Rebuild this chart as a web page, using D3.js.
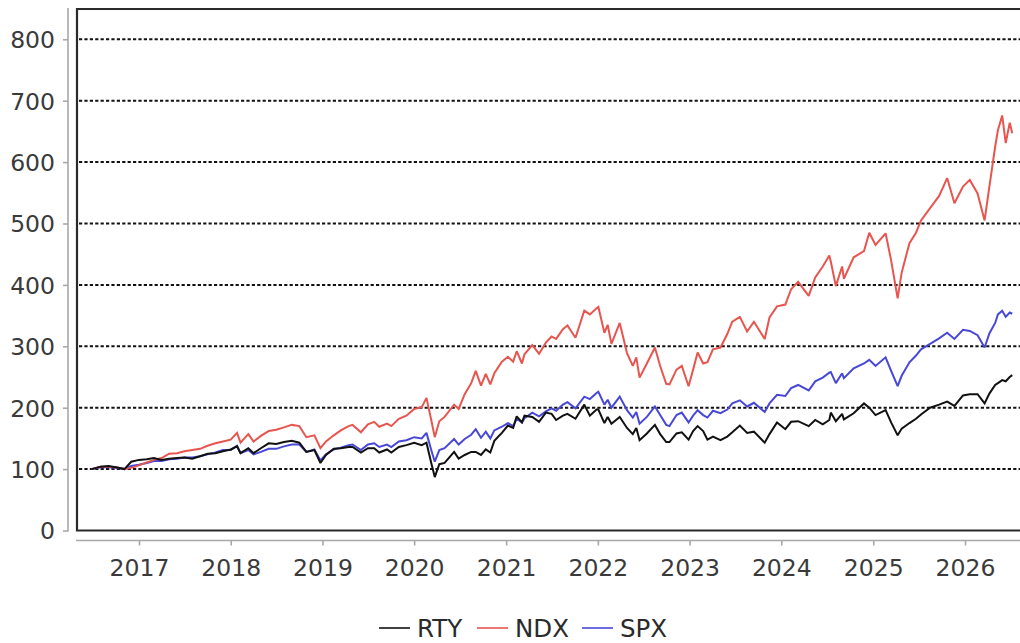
<!DOCTYPE html>
<html>
<head>
<meta charset="utf-8">
<script src="https://cdn.jsdelivr.net/npm/d3@7"></script>
<style>
  html, body { margin: 0; padding: 0; background: #fff; }
  svg { display: block; }
</style>
</head>
<body>
<svg id="chart" width="1020" height="643"></svg>
<script>
// ---------- data ----------
const dates = [
"2016-06-27","2016-08-01","2016-09-01","2016-10-01","2016-11-04","2016-12-01",
"2017-01-01","2017-02-01","2017-03-01","2017-04-01","2017-05-01","2017-06-01",
"2017-07-01","2017-08-01","2017-09-01","2017-10-01","2017-11-01","2017-12-01",
"2018-01-01","2018-01-26","2018-02-09","2018-03-12","2018-04-02","2018-05-01",
"2018-06-01","2018-07-01","2018-08-01","2018-09-01","2018-10-01","2018-10-29",
"2018-11-30","2018-12-24","2019-01-15","2019-02-15","2019-03-15","2019-04-15",
"2019-05-01","2019-06-03","2019-07-01","2019-07-26","2019-08-15","2019-09-15",
"2019-10-02","2019-11-01","2019-12-01","2020-01-01","2020-01-31","2020-02-19",
"2020-03-09","2020-03-23","2020-04-10","2020-05-01","2020-06-08","2020-06-26",
"2020-07-20","2020-08-15","2020-09-02","2020-09-23","2020-10-12","2020-10-30",
"2020-11-15","2020-12-15","2021-01-08","2021-01-29","2021-02-12","2021-03-05",
"2021-03-15","2021-04-15","2021-05-12","2021-06-08","2021-07-01","2021-07-19",
"2021-08-15","2021-09-02","2021-10-04","2021-11-08","2021-11-30","2021-12-27",
"2022-01-03","2022-01-27","2022-02-09","2022-02-24","2022-03-29","2022-04-27",
"2022-05-20","2022-06-03","2022-06-16","2022-07-15","2022-08-16","2022-09-06",
"2022-09-30","2022-10-13","2022-11-10","2022-12-01","2022-12-28","2023-01-15",
"2023-02-02","2023-02-24","2023-03-13","2023-04-04","2023-05-04","2023-05-31",
"2023-06-20","2023-07-20","2023-08-18","2023-09-14","2023-10-27","2023-11-15",
"2023-12-15","2024-01-17","2024-02-09","2024-03-08","2024-04-19","2024-05-15",
"2024-06-14","2024-07-10","2024-07-16","2024-08-05","2024-08-30","2024-09-06",
"2024-10-15","2024-11-25","2024-12-16","2025-01-10","2025-02-19","2025-03-13",
"2025-04-08","2025-04-24","2025-05-25","2025-06-20","2025-07-10","2025-08-15",
"2025-09-20","2025-10-22","2025-11-20","2025-12-24","2026-01-20","2026-02-20",
"2026-03-20","2026-04-08","2026-05-01","2026-05-12","2026-05-29","2026-06-12",
"2026-06-28","2026-07-08"
];
const rty = [
100,104,105,103,100,112,
115,116,118,115,117,118,
119,117,121,125,126,129,
132,137,126,134,126,134,
142,141,144,146,143,128,
131,110,123,133,134,136,
136,127,134,134,127,132,
127,136,139,143,139,143,
110,87,108,110,128,117,
123,128,128,123,132,127,
146,159,171,167,186,176,
187,185,177,192,190,180,
187,190,182,205,187,197,
197,175,185,174,185,167,
157,167,147,158,172,157,
144,144,158,160,148,162,
170,162,148,153,147,153,
160,171,159,161,143,157,
176,165,177,178,170,180,
173,180,192,178,190,181,
191,207,200,188,196,176,
155,166,175,182,189,200,
205,210,203,220,222,222,
207,223,237,240,245,243,
250,253
];
const ndx = [
100,104,104,103,100,102,
106,111,115,118,125,126,
129,131,133,138,142,145,
148,159,143,157,145,154,
162,164,168,172,170,152,
155,134,145,155,163,170,
172,160,173,177,169,174,
170,182,187,198,201,216,
180,152,178,185,205,198,
222,240,260,236,255,238,
256,275,283,275,292,272,
287,302,288,306,316,312,
328,334,314,358,352,362,
364,322,335,304,338,289,
268,282,249,272,298,268,
239,238,262,268,235,262,
290,272,274,295,298,320,
340,348,324,340,312,347,
365,368,393,405,382,412,
430,448,438,398,430,410,
445,455,485,465,484,440,
378,420,468,485,505,525,
545,574,533,560,571,549,
505,560,625,652,676,631,
664,647
];
const spx = [
100,103,103,102,100,105,
107,110,113,113,116,117,
119,119,121,124,127,131,
131,138,126,131,124,128,
133,133,137,140,140,128,
132,114,124,132,135,139,
140,131,140,142,136,140,
136,145,147,152,150,159,
131,112,131,134,149,140,
149,156,165,151,161,150,
163,169,175,170,182,176,
183,192,186,194,199,195,
205,209,199,218,214,224,
226,205,213,200,218,196,
184,193,174,185,202,188,
172,170,188,192,176,187,
196,188,184,195,191,197,
207,212,202,208,193,207,
221,219,232,237,228,243,
249,257,258,240,256,248,
264,272,278,268,282,260,
235,252,274,285,295,304,
313,322,312,327,325,318,
298,321,338,352,358,348,
355,353
];
const seriesNames = ["RTY", "NDX", "SPX"];
const seriesColors = ["#111111", "#e8554f", "#4848d8"];
const yTicks = [0, 100, 200, 300, 400, 500, 600, 700, 800];
const xTickYears = [2017, 2018, 2019, 2020, 2021, 2022, 2023, 2024, 2025, 2026];

// ---------- layout ----------
const W = 1020, H = 643;
const plotL = 77, plotT = 9, plotB = 530.5, plotR = 1040;
const parse = d3.timeParse("%Y-%m-%d");
const dts = dates.map(parse);

const x = d3.scaleTime()
  .domain([new Date(2017, 0, 1), new Date(2026, 0, 1)])
  .range([139, 965]);
const y = d3.scaleLinear().domain([0, 800]).range([plotB, 39.3]);

const svg = d3.select("#chart");
const font = "'DejaVu Sans', 'Liberation Sans', sans-serif";

// clip
svg.append("defs").append("clipPath").attr("id", "clip")
  .append("rect").attr("x", plotL).attr("y", plotT)
  .attr("width", plotR - plotL).attr("height", plotB - plotT);

// grid lines
svg.append("g").selectAll("line")
  .data(yTicks.filter(d => d > 0))
  .join("line")
  .attr("x1", plotL + 2).attr("x2", W)
  .attr("y1", d => y(d)).attr("y2", d => y(d))
  .attr("stroke", "#111").attr("stroke-width", 2)
  .attr("stroke-dasharray", "3.2,2.2");

// series
const data = [rty, ndx, spx];
const line = d3.line().x((d, i) => x(dts[i])).y(d => y(d));
const order = [2, 1, 0];
const gLines = svg.append("g").attr("clip-path", "url(#clip)");
order.forEach(k => {
  gLines.append("path")
    .datum(data[k])
    .attr("d", line)
    .attr("fill", "none")
    .attr("stroke", seriesColors[k])
    .attr("stroke-width", 2)
    .attr("stroke-linejoin", "miter")
    .attr("stroke-miterlimit", 2);
});

// plot border (left, top, bottom)
svg.append("path")
  .attr("d", `M${W},${plotT} H${plotL} V${plotB} H${W}`)
  .attr("fill", "none").attr("stroke", "#2a2a2a").attr("stroke-width", 2.2);

// y axis (gray, offset)
const yAxis = d3.axisLeft(y).tickValues(yTicks).tickSize(5).tickPadding(8);
const gy = svg.append("g").attr("transform", "translate(68,0)").call(yAxis);
gy.select(".domain").attr("d", `M0,${plotT - 1}V${plotB + 1}`)
  .attr("stroke", "#a8a8a8").attr("stroke-width", 1.6);
gy.selectAll(".tick line").attr("stroke", "#a8a8a8").attr("stroke-width", 1.6);
gy.selectAll(".tick text")
  .attr("font-family", font).attr("font-size", 23.5)
  .attr("fill", "#3a3a3a").attr("dy", "0.36em");

// x axis (gray, offset)
const xAxis = d3.axisBottom(x)
  .tickValues(xTickYears.map(yr => new Date(yr, 0, 1)))
  .tickFormat(d3.timeFormat("%Y"))
  .tickSize(5).tickPadding(14);
const gx = svg.append("g").attr("transform", "translate(0,540.5)").call(xAxis);
gx.select(".domain").attr("d", `M${plotL - 1},0H${W}`)
  .attr("stroke", "#a8a8a8").attr("stroke-width", 1.6);
gx.selectAll(".tick line").attr("stroke", "#a8a8a8").attr("stroke-width", 1.6);
gx.selectAll(".tick text")
  .attr("font-family", font).attr("font-size", 23.5)
  .attr("fill", "#3a3a3a");

// legend
const legendX = [379, 477, 582];
const lg = svg.append("g");
seriesNames.forEach((name, i) => {
  lg.append("line")
    .attr("x1", legendX[i]).attr("x2", legendX[i] + 31)
    .attr("y1", 628).attr("y2", 628)
    .attr("stroke", seriesColors[i]).attr("stroke-width", 1.6);
  lg.append("text")
    .attr("x", legendX[i] + 38).attr("y", 636.5)
    .attr("font-family", font).attr("font-size", 24.5)
    .attr("fill", "#2a2a2a")
    .text(name);
});
</script>
</body>
</html>
